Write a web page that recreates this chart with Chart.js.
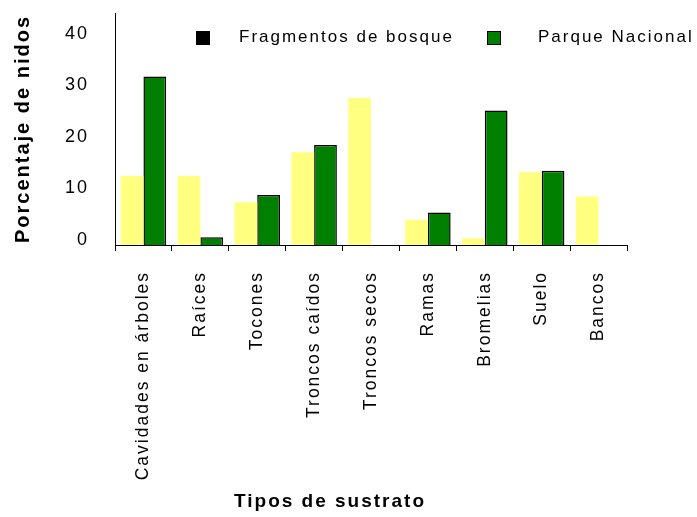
<!DOCTYPE html>
<html>
<head>
<meta charset="utf-8">
<script src="https://cdn.jsdelivr.net/npm/chart.js@4.4.0/dist/chart.umd.min.js"></script>
<style>
  html, body { margin: 0; padding: 0; background: #fff; }
  canvas { display: block; }
</style>
</head>
<body>
<canvas id="chart" width="697" height="517"></canvas>
<script>
// Data
const categories = ['Cavidades en árboles', 'Raíces', 'Tocones', 'Troncos caídos', 'Troncos secos', 'Ramas', 'Bromelias', 'Suelo', 'Bancos'];
const fragmentos = [13.4, 13.4, 8.3, 18.0, 28.5, 4.9, 1.3, 14.1, 9.4];
const parque = [32.7, 1.5, 9.7, 19.4, null, 6.3, 26.1, 14.4, null];
const yTicks = [0, 10, 20, 30, 40];
const seriesNames = ['Fragmentos de bosque', 'Parque Nacional'];
const legendSwatches = ['#000000', '#008000'];
const yTitle = 'Porcentaje de nidos';
const xTitle = 'Tipos de sustrato';

const FONT = "'Liberation Sans', Arial, sans-serif";
const SPACING = '2px';

// wide letter spacing like the old bitmap fonts of the original
const spacing = {
  id: 'spacing',
  beforeUpdate(c) { c.ctx.letterSpacing = SPACING; },
  beforeLayout(c) { c.ctx.letterSpacing = SPACING; },
  beforeDraw(c) { c.ctx.letterSpacing = SPACING; },
};

// legend inside the plot + x axis title (off-centre in the original)
const overlay = {
  id: 'overlay',
  afterDraw(chart) {
    const { ctx, chartArea: a } = chart;
    ctx.save();
    ctx.letterSpacing = SPACING;
    const items = [{ box: a.left + 81, text: a.left + 124 }, { box: a.left + 372, text: a.left + 423 }];
    ctx.font = `17px ${FONT}`;
    ctx.textBaseline = 'middle';
    items.forEach((it, i) => {
      ctx.fillStyle = legendSwatches[i];
      ctx.fillRect(it.box, 31, 14, 14);
      ctx.strokeStyle = '#000';
      ctx.lineWidth = 1;
      ctx.strokeRect(it.box + 0.5, 31.5, 13, 13);
      ctx.fillStyle = '#000';
      ctx.fillText(seriesNames[i], it.text, 37);
    });
    ctx.font = `bold 19px ${FONT}`;
    ctx.textAlign = 'center';
    ctx.fillText(xTitle, a.left + 215, 502);
    ctx.restore();
  },
};

new Chart(document.getElementById('chart').getContext('2d'), {
  type: 'bar',
  data: {
    labels: categories,
    datasets: [
      { label: seriesNames[0], data: fragmentos, backgroundColor: '#FFFF80', borderWidth: 0 },
      { label: seriesNames[1], data: parque, backgroundColor: '#008000', borderColor: '#000000', borderWidth: 1.5 },
    ],
  },
  options: {
    responsive: false,
    animation: false,
    devicePixelRatio: 1,
    layout: { padding: { top: 13, right: 70, left: 0, bottom: 0 } },
    datasets: { bar: { categoryPercentage: 0.8, barPercentage: 1.0 } },
    plugins: { legend: { display: false }, tooltip: { enabled: false } },
    scales: {
      x: {
        grid: { display: true, drawOnChartArea: false, drawTicks: true, tickLength: 6, color: '#000', lineWidth: 1, offset: true },
        border: { display: true, color: '#000', width: 1 },
        ticks: { color: '#000', font: { family: FONT, size: 17.5 }, minRotation: 90, maxRotation: 90, autoSkip: false, padding: 20 },
        afterFit: (s) => { s.height = 272; s.paddingLeft = 0; s.paddingRight = 0; },
      },
      y: {
        min: 0,
        max: 45,
        afterBuildTicks: (s) => { s.ticks = yTicks.map((v) => ({ value: v })); },
        grid: { display: false, drawTicks: false },
        border: { display: true, color: '#000', width: 1 },
        ticks: {
          color: '#000',
          font: { family: FONT, size: 18 },
          padding: 26,
          labelOffset: -5,
          callback: (v) => String(v).padStart(2, '\u2007'),
        },
        title: { display: true, text: yTitle, color: '#000', font: { family: FONT, size: 20, weight: 'bold' }, padding: { top: 11, bottom: 0 } },
        afterFit: (s) => { s.width = 115; s.paddingTop = 0; s.paddingBottom = 0; },
      },
    },
  },
  plugins: [spacing, overlay],
});
</script>
</body>
</html>
